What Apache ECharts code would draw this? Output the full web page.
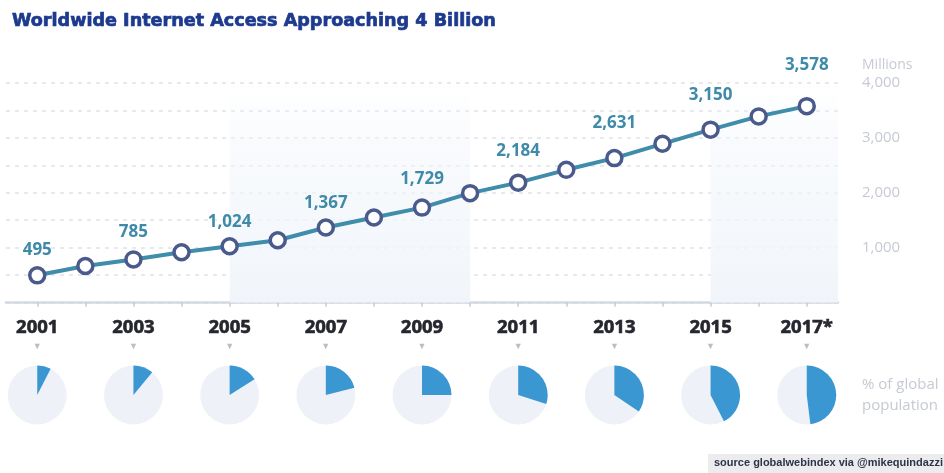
<!DOCTYPE html>
<html>
<head>
<meta charset="utf-8">
<script src="https://cdn.jsdelivr.net/npm/echarts@6/dist/echarts.min.js"></script>
<style>
html,body{margin:0;padding:0;background:#fff;}
#chart{width:944px;height:473px;}
</style>
</head>
<body>
<div id="chart"></div>
<script>
// ---- data ----
const years = [2001,2002,2003,2004,2005,2006,2007,2008,2009,2010,2011,2012,2013,2014,2015,2016,2017];
const users = [495,666,785,916,1024,1135,1367,1548,1729,1993,2184,2418,2631,2892,3150,3391,3578];
const labeledYears = [2001,2003,2005,2007,2009,2011,2013,2015,2017];
const yearLabels = ['2001','2003','2005','2007','2009','2011','2013','2015','2017*'];
const pieYears = [2001,2003,2005,2007,2009,2011,2013,2015,2017];
const pieShare = [0.075,0.11,0.16,0.21,0.25,0.30,0.345,0.425,0.48];
const shadedRanges = [[2005,2010],[2015,2017.65]];
const yTicks = [1000,2000,3000,4000];

// ---- style (not data) ----
const labelDistance = {2001:7,2003:10,2005:6,2007:7,2009:11,2011:14,2013:17,2015:17,2017:23};
const X_MIN = 2000.35, X_MAX = 2017.65;

const chart = echarts.init(document.getElementById('chart'));

const lineData = years.map((y,i) => {
  const item = {value:[y, users[i]]};
  if (labeledYears.indexOf(y) >= 0) {
    item.label = {show:true, distance: labelDistance[y]};
  }
  return item;
});

const shadeColor = new echarts.graphic.LinearGradient(0,0,0,1,[
  {offset:0, color:'rgba(242,246,251,0)'},
  {offset:0.3, color:'rgba(242,246,251,0.5)'},
  {offset:1, color:'rgba(241,245,250,1)'}
]);

const option = {
  animation:false,
  title:{
    text:'Worldwide Internet Access Approaching 4 Billion',
    left:7, top:7,
    textStyle:{fontFamily:'DejaVu Sans', fontWeight:'bold', fontSize:17.6, color:'#1d3a8e',
      textBorderColor:'#1d3a8e', textBorderWidth:0.7}
  },
  grid:[
    {left:6, right:106, top:83, height:219.5},
    {left:6, right:106, top:355, height:80}
  ],
  xAxis:[
    {
      type:'value', gridIndex:0, min:X_MIN, max:X_MAX,
      splitLine:{show:false},
      axisLine:{show:true, lineStyle:{color:'#d3d9e2', width:2.5}},
      axisTick:{show:true, customValues:years, length:4, inside:false, lineStyle:{color:'#c3c9d2', width:1.5}},
      axisLabel:{
        show:true, customValues:labeledYears, margin:14,
        formatter:function(v){
          const idx = labeledYears.indexOf(Math.round(v));
          return '{y|' + yearLabels[idx] + '}\n{t|▼}';
        },
        rich:{
          y:{fontFamily:'Open Sans', fontWeight:'bold', fontSize:18.5, color:'#26272e', lineHeight:22, align:'center',
             textBorderColor:'#26272e', textBorderWidth:0.6},
          t:{fontSize:9, color:'#b9bec7', lineHeight:16, align:'center'}
        }
      }
    },
    {type:'value', gridIndex:1, min:X_MIN, max:X_MAX, show:false}
  ],
  yAxis:[
    {
      type:'value', gridIndex:0, position:'right', min:0, max:4000, interval:500,
      name:'Millions', nameLocation:'end', nameGap:11,
      nameTextStyle:{fontFamily:'Open Sans', fontSize:14, color:'#c6cad2', align:'left', padding:[0,0,0,24]},
      axisLine:{show:false}, axisTick:{show:false},
      axisLabel:{
        margin:24, fontFamily:'Open Sans', fontSize:15, color:'#c6cad2',
        formatter:function(v){ return yTicks.indexOf(v) >= 0 ? v.toLocaleString('en-US') : ''; }
      },
      splitLine:{show:true, lineStyle:{color:'#dfe2e8', type:[4,5], width:1.5}}
    },
    {type:'value', gridIndex:1, min:0, max:1, show:false}
  ],
  series:[
    {
      type:'line', xAxisIndex:0, yAxisIndex:0,
      data:lineData,
      symbol:'circle', symbolSize:15,
      lineStyle:{color:'#3f8cab', width:4},
      itemStyle:{color:'#ffffff', borderColor:'#4b5a8c', borderWidth:3.5},
      label:{show:false, position:'top', fontFamily:'Open Sans', fontWeight:'bold', fontSize:17, color:'#3f8aa8',
        formatter:function(p){ return p.value[1].toLocaleString('en-US'); }},
      z:5,
      markArea:{
        silent:true,
        itemStyle:{color:shadeColor},
        data: shadedRanges.map(r => [{xAxis:r[0]},{xAxis:r[1]}])
      }
    },
    {
      type:'custom', xAxisIndex:1, yAxisIndex:1,
      data: pieYears.map((y,i) => [y, pieShare[i]]),
      renderItem:function(params, api){
        const c = api.coord([api.value(0), 0.5]);
        const p = api.value(1);
        const r = 29.5;
        return {
          type:'group',
          children:[
            {type:'circle', shape:{cx:c[0], cy:c[1], r:r}, style:{fill:'#eef2f8'}},
            {type:'sector', shape:{cx:c[0], cy:c[1], r:r, r0:0,
              startAngle:-Math.PI/2, endAngle:-Math.PI/2 + 2*Math.PI*p, clockwise:true},
              style:{fill:'#3a97d2'}}
          ]
        };
      }
    }
  ],
  graphic:[
    {type:'text', left:862, top:374, style:{text:'% of global\npopulation', fontFamily:'Open Sans', fontSize:15, lineHeight:21, fill:'#c6cad2'}},
    {type:'rect', left:708, top:454, shape:{width:236, height:19}, style:{fill:'#ececef'}},
    {type:'text', left:714, top:457, style:{text:'source globalwebindex via @mikequindazzi', fontFamily:'Liberation Sans', fontWeight:'bold', fontSize:11, fill:'#2c3447'}}
  ]
};

chart.setOption(option);
</script>
</body>
</html>
